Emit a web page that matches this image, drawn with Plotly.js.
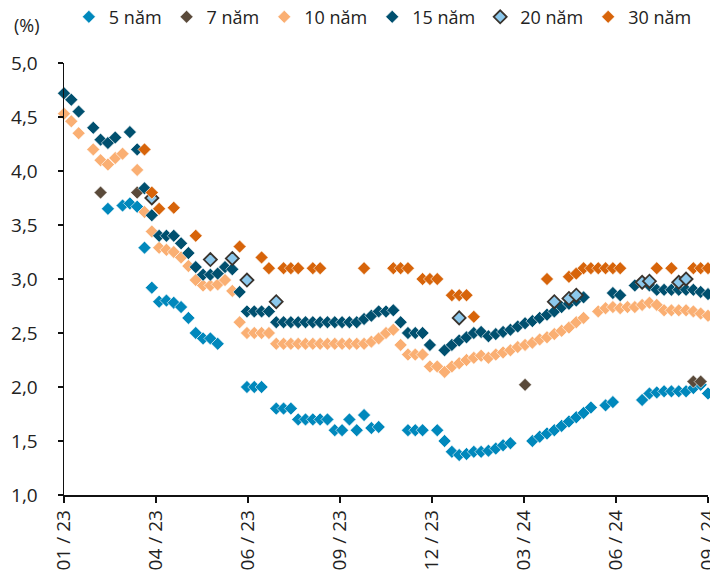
<!DOCTYPE html>
<html>
<head>
<meta charset="utf-8">
<script src="https://cdn.plot.ly/plotly-3.0.1.min.js"></script>
<style>html,body{margin:0;padding:0;background:#fff;}#chart{width:710px;height:570px;}</style>
</head>
<body>
<div id="chart"></div>
<script>
// Weekly observations, index 0 = first week of Jan 2023
const tickLabels = ['01 / 23','04 / 23','06 / 23','09 / 23','12 / 23','03 / 24','06 / 24','09 / 24'];
const lastWeek = 88;

const fiveYear = [
  null,null,null,null,null,null,3.65,null,3.68,3.70,
  3.67,3.29,2.92,2.79,2.80,2.78,2.74,2.64,2.50,2.45,
  2.45,2.40,null,null,null,2.00,2.00,2.00,null,1.80,
  1.80,1.80,1.70,1.70,1.70,1.70,1.70,1.60,1.60,1.70,
  1.60,1.74,1.62,1.63,null,null,null,1.60,1.60,1.60,
  null,1.60,1.50,1.40,1.37,1.38,1.40,1.40,1.41,1.43,
  1.46,1.48,null,null,1.50,1.54,1.57,1.60,1.64,1.68,
  1.72,1.76,1.81,null,1.83,1.86,null,null,null,1.88,
  1.94,1.95,1.96,1.96,1.96,1.96,1.99,2.02,1.94
];
const sevenYearWeeks = [5,10,63,86,87];
const sevenYear = [3.80,3.80,2.02,2.05,2.05];
const tenYear = [
  4.53,4.46,4.35,null,4.20,4.10,4.06,4.12,4.16,null,
  4.01,3.62,3.44,3.29,3.27,3.25,3.20,3.12,2.99,2.94,
  2.94,2.95,2.99,2.89,2.60,2.50,2.50,2.50,2.50,2.40,
  2.40,2.40,2.40,2.40,2.40,2.40,2.40,2.40,2.40,2.40,
  2.40,2.40,2.42,2.45,2.50,2.53,2.39,2.30,2.30,2.30,
  2.19,2.19,2.14,2.19,2.22,2.25,2.27,2.29,2.27,2.30,
  2.32,2.34,2.37,2.39,2.41,2.44,2.46,2.49,2.52,2.55,
  2.60,2.64,null,2.70,2.73,2.74,2.73,2.74,2.74,2.76,
  2.78,2.76,2.71,2.71,2.71,2.71,2.70,2.68,2.66
];
const fifteenYear = [
  4.72,4.66,4.55,null,4.40,4.29,4.26,4.31,null,4.36,
  4.20,3.84,3.59,3.40,3.40,3.40,3.33,3.24,3.11,3.04,
  3.04,3.05,3.11,3.09,2.88,2.70,2.70,2.70,2.70,2.60,
  2.60,2.60,2.60,2.60,2.60,2.60,2.60,2.60,2.60,2.60,
  2.60,2.63,2.66,2.70,2.70,2.71,2.60,2.50,2.50,2.50,
  2.39,null,2.34,2.39,2.43,2.46,2.50,2.51,2.47,2.49,
  2.51,2.53,2.56,2.59,2.61,2.64,2.67,2.70,2.74,2.77,
  2.80,2.83,null,null,null,2.87,2.85,null,2.94,2.96,
  2.94,2.90,2.90,2.90,2.90,2.90,2.90,2.88,2.86
];
const twentyYearWeeks = [12,20,23,25,29,54,67,69,70,79,80,84,85];
const twentyYear = [3.75,3.18,3.19,2.99,2.79,2.64,2.79,2.82,2.85,2.97,2.98,2.97,3.00];
const thirtyYearWeeks = [11,12,13,15,18,24,27,28,30,31,32,34,35,41,45,46,47,49,50,51,53,54,55,56,66,69,70,71,72,73,74,75,76,81,83,86,87,88];
const thirtyYear = [4.20,3.80,3.65,3.66,3.40,3.30,3.20,3.10,3.10,3.10,3.10,3.10,3.10,3.10,3.10,3.10,3.10,3.00,3.00,3.00,2.85,2.85,2.85,2.65,3.00,3.02,3.05,3.10,3.10,3.10,3.10,3.10,3.10,3.10,3.10,3.10,3.10,3.10];

const seriesNames = ['5 năm','7 năm','10 năm','15 năm','20 năm','30 năm'];

const weekIndex = tenYear.map((_, i) => i);
const tickVals = tickLabels.map((_, i) => Math.round(i * lastWeek / (tickLabels.length - 1) * 1000) / 1000);

function mk(name, x, y, color, line) {
  return {
    type: 'scatter', mode: 'markers', name: name, x: x, y: y,
    cliponaxis: false, hoverinfo: 'x+y',
    marker: {symbol: 'diamond', size: 10, color: color,
             line: line || {color: '#ffffff', width: 0.6}}
  };
}

const data = [
  mk(seriesNames[0], weekIndex, fiveYear, '#0088BC'),
  mk(seriesNames[1], sevenYearWeeks, sevenYear, '#5A4A3A'),
  mk(seriesNames[2], weekIndex, tenYear, '#FAAF73'),
  mk(seriesNames[3], weekIndex, fifteenYear, '#00506F'),
  mk(seriesNames[4], twentyYearWeeks, twentyYear, '#8CC8EC', {color: '#3A342E', width: 1.8}),
  mk(seriesNames[5], thirtyYearWeeks, thirtyYear, '#D7640A')
];

const layout = {
  width: 710, height: 570,
  margin: {l: 64, r: 2, t: 63, b: 75},
  paper_bgcolor: '#ffffff', plot_bgcolor: '#ffffff',
  separators: ',.',
  font: {family: '"Open Sans", "Noto Sans", sans-serif', size: 19, color: '#222'},
  showlegend: true,
  legend: {orientation: 'h', xref: 'container', yref: 'container',
           x: 0.097, xanchor: 'left', y: 0.970, yanchor: 'middle',
           font: {size: 18, color: '#222'}, bgcolor: 'rgba(0,0,0,0)'},
  xaxis: {
    range: [0, lastWeek], tickmode: 'array', tickvals: tickVals, ticktext: tickLabels,
    tickangle: -90, ticks: 'outside', ticklen: 6, tickwidth: 1.5, tickcolor: '#111',
    showline: true, linecolor: '#111', linewidth: 1.5, showgrid: false, zeroline: false,
    tickfont: {size: 19, color: '#222'}, automargin: false, ticklabeloverflow: 'allow'
  },
  yaxis: {
    range: [1, 5], dtick: 0.5, tick0: 1, tickformat: '.1f',
    ticks: 'outside', ticklen: 5, tickwidth: 1.5, tickcolor: '#111',
    showline: true, linecolor: '#111', linewidth: 1.5, showgrid: false, zeroline: false,
    tickfont: {size: 19, color: '#222'}, ticklabelstandoff: 16, automargin: false
  },
  annotations: [{
    text: '(%)', xref: 'paper', yref: 'paper', x: -0.058, y: 1.088,
    xanchor: 'center', yanchor: 'middle', showarrow: false,
    font: {size: 18, color: '#222'}
  }]
};

Plotly.newPlot('chart', data, layout, {displayModeBar: false, staticPlot: true});
</script>
</body>
</html>
